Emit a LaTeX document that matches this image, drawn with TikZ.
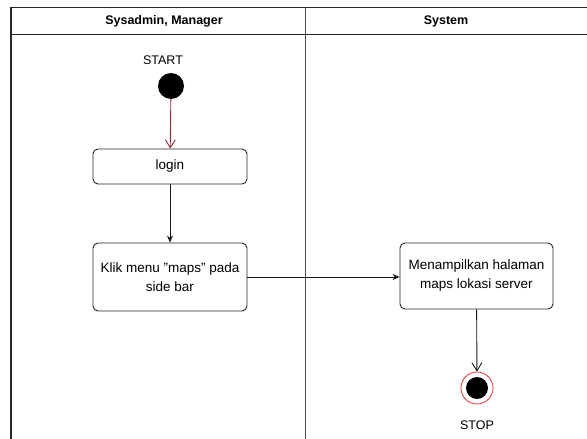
\documentclass[tikz,border=0pt]{standalone}
\usepackage{fontspec}
\setmainfont{Liberation Sans}
\usetikzlibrary{arrows.meta}
\begin{document}
\begin{tikzpicture}[x=1pt,y=-1pt,
  lane/.style={line width=1.2pt,draw=black!85},
  action/.style={draw=black!85,line width=0.9pt,rounded corners=5pt,fill=white,
    align=center,font=\fontsize{13.5}{19}\selectfont,inner sep=2pt},
  flow/.style={draw=black!90,line width=0.9pt,-{Stealth[length=7pt,width=6pt]}},
  openflow/.style={line width=0.9pt,-{Straight Barb[length=8pt,width=10pt]}},
  lbl/.style={font=\fontsize{12.5}{14}\selectfont},
  head/.style={font=\fontsize{12.5}{14}\selectfont\bfseries}]
\useasboundingbox (0,0) rectangle (587,439);
\fill[white] (0,0) rectangle (587,439);

% swimlane frame
\coordinate (tl) at (11,7.5);
\coordinate (tr) at (587,7.5);
\coordinate (hl) at (11,34.5);
\coordinate (hr) at (587,34.5);
\coordinate (bl) at (11,439);
\coordinate (dt) at (305.5,7.5);
\coordinate (db) at (305.5,439);
\draw[lane] (tr) -- (tl) -- (bl);
\draw[lane] (hl) -- (hr);
\draw[lane,draw=black!70] (dt) -- (db);
\node[head] (h1) at (164,21) {Sysadmin, Manager};
\node[head] (h2) at (446,21) {System};

% start node
\node[lbl] (startlbl) at (163,60) {START};
\node[circle,fill=black,minimum size=26pt,inner sep=0pt] (start) at (171,86) {};

% actions
\node[action,minimum width=154pt,minimum height=35pt] (login) at (170,166.5) {login};
\node[action,minimum width=154pt,minimum height=68pt] (klik) at (170,277)
  {Klik menu \char34 maps\char34{} pada\\side bar};
\node[action,minimum width=153pt,minimum height=66pt] (tampil) at (476.5,276)
  {Menampilkan halaman\\maps lokasi server};

% end node
\node[circle,draw=red!80,line width=0.8pt,fill=white,minimum size=32pt,inner sep=0pt] (stop) at (477,388) {};
\node[circle,fill=black,minimum size=22pt,inner sep=0pt] (stopin) at (stop.center) {};
\node[lbl] (stoplbl) at (477,425) {STOP};

% connectors
\draw[openflow,draw={rgb,255:red,150;green,40;blue,60}] (start) -- (login);
\draw[flow] (login) -- (klik);
\draw[flow] (klik.east |- 0,277) -- (tampil.west |- 0,277);
\draw[openflow,draw=black!90] (tampil) -- (stop);
\end{tikzpicture}
\end{document}
